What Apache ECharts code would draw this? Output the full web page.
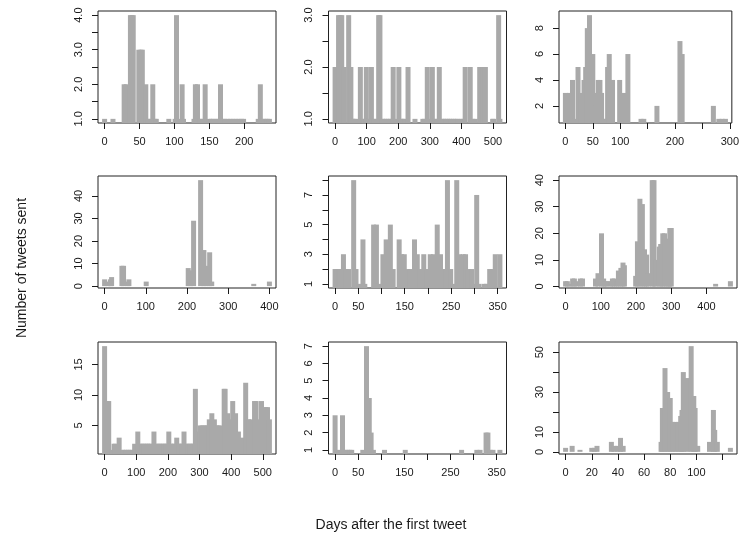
<!DOCTYPE html>
<html>
<head>
<meta charset="utf-8">
<script src="https://cdn.jsdelivr.net/npm/echarts@6/dist/echarts.min.js"></script>
<style>
html,body{margin:0;padding:0;background:#fff;}
#chart{width:742px;height:540px;}
</style>
</head>
<body>
<div id="chart"></div>
<script>
// ---- Panel 1 ----
const p1Days   = [0, 12, 28, 31, 37, 39, 41, 49, 52, 54, 59, 62, 65, 69, 72, 74, 92, 101, 103, 106, 111, 113, 128, 130, 133, 137, 140, 144, 150, 153, 156, 160, 163, 166, 169, 172, 176, 180, 184, 188, 192, 196, 199, 220, 223, 227, 230, 233, 236];
const p1Counts = [1, 1, 2, 2, 4, 4, 4, 3, 3, 3, 2, 1, 1, 2, 1, 1, 1, 1, 4, 1, 2, 1, 1, 2, 2, 1, 1, 2, 1, 1, 1, 1, 1, 2, 1, 1, 1, 1, 1, 1, 1, 1, 1, 1, 2, 1, 1, 1, 1];
const p1XTicks = [0, 50, 100, 150, 200];
const p1XLabels = [0, 50, 100, 150, 200];
const p1YTicks = [1, 1.5, 2, 2.5, 3, 3.5, 4];
const p1YLabels = [1, 2, 3, 4];

// ---- Panel 2 ----
const p2Days   = [0, 11, 16, 21, 29, 43, 50, 55, 60, 65, 80, 88, 92, 99, 106, 108, 115, 122, 126, 138, 142, 150, 157, 163, 170, 176, 184, 190, 202, 209, 215, 220, 231, 253, 278, 283, 292, 300, 308, 316, 322, 330, 338, 344, 350, 356, 362, 368, 375, 382, 388, 398, 405, 412, 428, 436, 444, 458, 467, 476, 499, 502, 518, 522];
const p2Counts = [2, 3, 3, 3, 2, 3, 2, 1, 1, 1, 2, 1, 1, 2, 1, 1, 2, 1, 1, 3, 3, 1, 1, 1, 1, 1, 2, 1, 2, 1, 1, 1, 2, 1, 1, 1, 2, 1, 2, 1, 1, 2, 1, 1, 1, 1, 1, 1, 1, 1, 1, 1, 1, 2, 2, 1, 1, 2, 2, 2, 1, 1, 3, 1];
const p2XTicks = [0, 100, 200, 300, 400, 500];
const p2XLabels = [0, 100, 200, 300, 400, 500];
const p2YTicks = [1, 1.5, 2, 2.5, 3];
const p2YLabels = [1, 2, 3];

// ---- Panel 3 ----
const p3Days   = [0, 7, 13, 18, 23, 29, 34, 37, 40, 44, 50, 54, 56, 60, 63, 66, 69, 72, 77, 80, 86, 99, 106, 114, 138, 143, 167, 209, 213, 270, 280, 286, 292];
const p3Counts = [3, 3, 4, 1, 5, 3, 4, 5, 8, 9, 6, 3, 2, 4, 4, 3, 1, 1, 5, 6, 4, 4, 3, 6, 1, 1, 2, 7, 6, 2, 1, 1, 1];
const p3XTicks = [0, 50, 100, 150, 200, 250, 300];
const p3XLabels = [0, 50, 100, 200, 300];
const p3YTicks = [2, 4, 6, 8];
const p3YLabels = [2, 4, 6, 8];

// ---- Panel 4 ----
const p4Days   = [0, 8, 14, 17, 42, 46, 55, 59, 101, 203, 208, 216, 233, 241, 246, 255, 260, 362, 400];
const p4Counts = [3, 2, 3, 4, 9, 9, 2, 3, 2, 8, 7, 29, 47, 16, 9, 15, 2, 1, 2];
const p4XTicks = [0, 100, 200, 300, 400];
const p4XLabels = [0, 100, 200, 300, 400];
const p4YTicks = [0, 10, 20, 30, 40];
const p4YLabels = [0, 10, 20, 30, 40];

// ---- Panel 5 ----
const p5Days   = [0, 4, 8, 11, 18, 24, 29, 40, 45, 52, 60, 64, 83, 89, 95, 103, 110, 119, 125, 138, 143, 149, 156, 162, 171, 177, 182, 191, 198, 205, 212, 220, 227, 232, 238, 242, 249, 254, 262, 268, 276, 281, 287, 294, 301, 305, 310, 321, 326, 333, 339, 345, 355];
const p5Counts = [2, 2, 2, 2, 3, 2, 2, 8, 2, 1, 4, 1, 5, 5, 1, 3, 4, 5, 2, 4, 3, 3, 2, 2, 4, 3, 2, 3, 2, 3, 3, 5, 3, 2, 2, 8, 2, 1, 8, 3, 3, 3, 2, 2, 1, 7, 1, 1, 1, 2, 2, 3, 3];
const p5XTicks = [0, 50, 100, 150, 200, 250, 300, 350];
const p5XLabels = [0, 50, 150, 250, 350];
const p5YTicks = [1, 2, 3, 4, 5, 6, 7, 8];
const p5YLabels = [1, 3, 5, 7];

// ---- Panel 6 ----
const p6Days   = [0, 5, 12, 20, 25, 33, 42, 48, 85, 92, 102, 108, 113, 118, 128, 133, 138, 145, 150, 157, 163, 167, 199, 204, 211, 218, 224, 230, 235, 246, 251, 256, 266, 270, 276, 281, 287, 293, 296, 300, 426, 468];
const p6Counts = [2, 2, 1, 3, 3, 2, 3, 3, 3, 5, 20, 3, 2, 2, 2, 3, 3, 2, 6, 7, 9, 8, 4, 17, 33, 31, 14, 12, 5, 40, 40, 10, 15, 16, 20, 20, 18, 17, 22, 22, 1, 2];
const p6XTicks = [0, 100, 200, 300, 400];
const p6XLabels = [0, 100, 200, 300, 400];
const p6YTicks = [0, 10, 20, 30, 40];
const p6YLabels = [0, 10, 20, 30, 40];

// ---- Panel 7 ----
const p7Days   = [0, 8, 13, 22, 30, 34, 46, 57, 63, 69, 75, 81, 87, 95, 105, 112, 118, 124, 130, 136, 142, 147, 156, 163, 169, 175, 181, 187, 193, 198, 203, 209, 215, 221, 228, 235, 240, 245, 251, 258, 264, 270, 276, 281, 287, 296, 302, 308, 314, 320, 326, 331, 339, 347, 353, 359, 365, 378, 381, 389, 396, 405, 414, 423, 434, 446, 455, 462, 474, 479, 487, 496, 505, 510, 515, 521];
const p7Counts = [18, 9, 9, 1, 2, 2, 3, 1, 1, 1, 1, 1, 1, 2, 4, 2, 2, 2, 2, 2, 2, 2, 4, 2, 2, 2, 2, 2, 2, 2, 4, 2, 2, 2, 3, 2, 2, 2, 4, 2, 2, 2, 2, 2, 11, 4, 5, 5, 5, 5, 5, 6, 7, 6, 5, 5, 5, 11, 11, 7, 6, 9, 7, 4, 3, 12, 6, 6, 9, 9, 6, 9, 8, 8, 8, 6];
const p7XTicks = [0, 100, 200, 300, 400, 500];
const p7XLabels = [0, 100, 200, 300, 400, 500];
const p7YTicks = [5, 10, 15];
const p7YLabels = [5, 10, 15];

// ---- Panel 8 ----
const p8Days   = [0, 9, 16, 22, 27, 32, 36, 60, 68, 74, 78, 83, 107, 152, 274, 307, 314, 327, 331, 336, 342, 357];
const p8Counts = [3, 1, 3, 1, 1, 1, 1, 1, 7, 4, 2, 1, 1, 1, 1, 1, 1, 2, 2, 1, 1, 1];
const p8XTicks = [0, 50, 100, 150, 200, 250, 300, 350];
const p8XLabels = [0, 50, 150, 250, 350];
const p8YTicks = [1, 2, 3, 4, 5, 6, 7];
const p8YLabels = [1, 2, 3, 4, 5, 6, 7];

// ---- Panel 9 ----
const p9Days   = [0, 5, 11, 20, 22, 24, 35, 37, 40, 42, 44, 73, 74, 76, 78, 80, 82, 84, 86, 88, 89, 90, 93, 96, 98, 99, 101, 110, 113, 114, 116, 126];
const p9Counts = [2, 3, 1, 2, 2, 3, 5, 3, 3, 7, 3, 5, 22, 42, 30, 27, 15, 15, 15, 18, 21, 40, 37, 53, 28, 22, 3, 5, 21, 11, 5, 2];
const p9XTicks = [0, 20, 40, 60, 80, 100, 120];
const p9XLabels = [0, 20, 40, 60, 80, 100];
const p9YTicks = [0, 10, 20, 30, 40, 50];
const p9YLabels = [0, 10, 30, 50];

const xTitle = 'Days after the first tweet';
const yTitle = 'Number of tweets sent';

const panels = [
  {d: p1Days, c: p1Counts, xt: p1XTicks, xl: p1XLabels, yt: p1YTicks, yl: p1YLabels, dec: 1},
  {d: p2Days, c: p2Counts, xt: p2XTicks, xl: p2XLabels, yt: p2YTicks, yl: p2YLabels, dec: 1},
  {d: p3Days, c: p3Counts, xt: p3XTicks, xl: p3XLabels, yt: p3YTicks, yl: p3YLabels, dec: 0},
  {d: p4Days, c: p4Counts, xt: p4XTicks, xl: p4XLabels, yt: p4YTicks, yl: p4YLabels, dec: 0},
  {d: p5Days, c: p5Counts, xt: p5XTicks, xl: p5XLabels, yt: p5YTicks, yl: p5YLabels, dec: 0},
  {d: p6Days, c: p6Counts, xt: p6XTicks, xl: p6XLabels, yt: p6YTicks, yl: p6YLabels, dec: 0},
  {d: p7Days, c: p7Counts, xt: p7XTicks, xl: p7XLabels, yt: p7YTicks, yl: p7YLabels, dec: 0},
  {d: p8Days, c: p8Counts, xt: p8XTicks, xl: p8XLabels, yt: p8YTicks, yl: p8YLabels, dec: 0},
  {d: p9Days, c: p9Counts, xt: p9XTicks, xl: p9XLabels, yt: p9YTicks, yl: p9YLabels, dec: 0}
];

const colLeft = [98, 328.5, 559];
const rowTop = [11, 176, 342];
const gw = 178, gh = 112;
const FONT = '"Liberation Sans", Arial, Helvetica, sans-serif';
const INK = '#1a1a1a';
const BAR = '#a9a9a9';

function rlim(arr) {
  const mn = Math.min.apply(null, arr), mx = Math.max.apply(null, arr);
  const r = mx - mn;
  return [mn - 0.04 * r, mx + 0.04 * r];
}

const grid = [], xAxis = [], yAxis = [], series = [];
panels.forEach((p, i) => {
  const col = i % 3, row = Math.floor(i / 3);
  grid.push({left: colLeft[col], top: rowTop[row], width: gw, height: gh,
    show: true, borderColor: '#222', borderWidth: 1, backgroundColor: 'transparent', containLabel: false});
  const xl = rlim(p.d), yl = rlim(p.c);
  xAxis.push({
    type: 'value', gridIndex: i, min: xl[0], max: xl[1],
    axisLine: {show: false, onZero: false},
    splitLine: {show: false},
    axisTick: {show: true, length: 6, customValues: p.xt, lineStyle: {color: INK, width: 1}},
    axisLabel: {show: true, customValues: p.xl, margin: 13, fontSize: 11, color: INK, fontFamily: FONT,
      formatter: v => String(v)}
  });
  yAxis.push({
    type: 'value', gridIndex: i, min: yl[0], max: yl[1],
    axisLine: {show: false, onZero: false},
    splitLine: {show: false},
    axisTick: {show: true, length: 6, customValues: p.yt, lineStyle: {color: INK, width: 1}},
    axisLabel: {show: true, customValues: p.yl, rotate: 90, margin: 14, fontSize: 11, color: INK, fontFamily: FONT,
      formatter: v => p.dec ? Number(v).toFixed(p.dec) : String(v)}
  });
  series.push({
    type: 'bar', xAxisIndex: i, yAxisIndex: i, barWidth: 5, clip: true, silent: true,
    itemStyle: {color: BAR},
    data: p.d.map((d, j) => [d, p.c[j]])
  });
});

const chart = echarts.init(document.getElementById('chart'), null, {renderer: 'canvas'});
chart.setOption({
  animation: false,
  backgroundColor: '#ffffff',
  grid, xAxis, yAxis, series,
  graphic: [
    {type: 'text', x: 391, y: 525, style: {text: xTitle, fill: INK, font: '14px ' + FONT, textAlign: 'center', textVerticalAlign: 'middle'}},
    {type: 'text', x: 22, y: 268, rotation: Math.PI / 2, style: {text: yTitle, fill: INK, font: '14px ' + FONT, textAlign: 'center', textVerticalAlign: 'middle'}}
  ]
});
</script>
</body>
</html>
